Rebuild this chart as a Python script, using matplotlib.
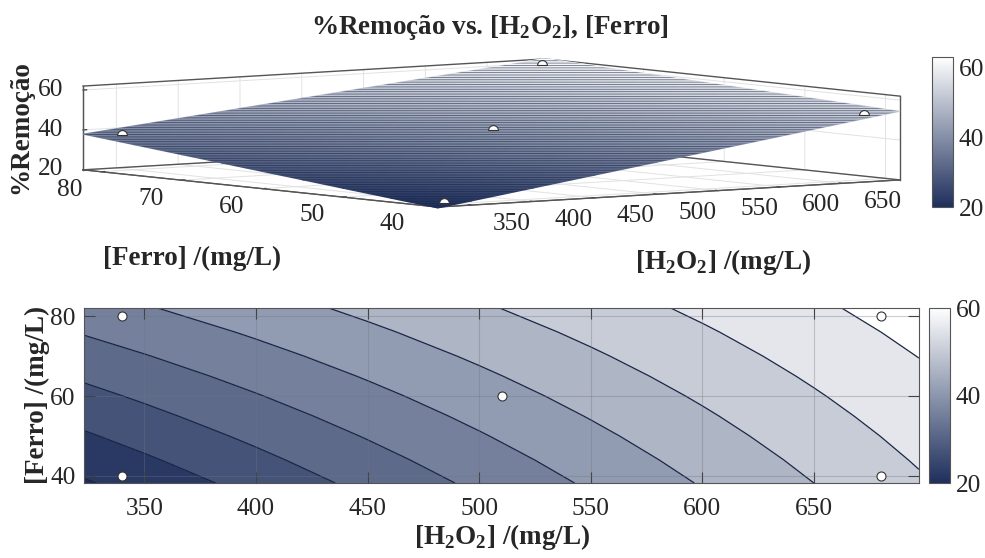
import matplotlib
matplotlib.use("Agg")
import matplotlib.pyplot as plt
import numpy as np
from matplotlib.cm import ScalarMappable
from matplotlib.colors import LinearSegmentedColormap, Normalize
from matplotlib.patches import Polygon
from matplotlib.path import Path
from mpl_toolkits.mplot3d import proj3d

h2o2_grid = [323, 350, 400, 450, 500, 550, 600, 650, 697]
ferro_grid = [38.2, 44, 50, 55, 60, 65, 70, 76, 82.2]
removal_382 = [19.5, 22.02, 26.68, 31.35, 36.01, 40.68, 45.34, 50.01, 54.39]
removal_44 = [21.93, 24.34, 28.82, 33.3, 37.78, 42.26, 46.74, 51.22, 55.43]
removal_50 = [24.43, 26.75, 31.03, 35.32, 39.61, 43.9, 48.19, 52.48, 56.5]
removal_55 = [26.53, 28.75, 32.88, 37.01, 41.14, 45.27, 49.39, 53.53, 57.4]
removal_60 = [28.61, 30.75, 34.72, 38.69, 42.66, 46.63, 50.6, 54.57, 58.3]
removal_65 = [30.71, 32.76, 36.57, 40.38, 44.19, 48.0, 51.81, 55.62, 59.2]
removal_70 = [32.8, 34.77, 38.42, 42.07, 45.72, 49.37, 53.02, 56.67, 60.09]
removal_76 = [35.31, 37.17, 40.63, 44.09, 47.55, 51.01, 54.46, 57.92, 61.17]
removal_822 = [37.9, 39.66, 42.92, 46.18, 49.44, 52.7, 55.96, 59.22, 62.28]

point_h2o2 = [340, 340, 510, 680, 680]
point_ferro = [40, 80, 60, 40, 80]
point_removal = [20.4, 38.0, 42.6, 52.5, 60.3]

contour_levels = [20, 25, 30, 35, 40, 45, 50, 55, 60]
h2o2_ticks = [350, 400, 450, 500, 550, 600, 650]
ferro_ticks_3d = [40, 50, 60, 70, 80]
ferro_ticks_2d = [40, 60, 80]
removal_ticks = [20, 40, 60]

plt.rcParams["font.family"] = ["Liberation Serif", "DejaVu Serif"]
plt.rcParams["mathtext.fontset"] = "custom"
plt.rcParams["mathtext.rm"] = "Liberation Serif"
plt.rcParams["mathtext.bf"] = "Liberation Serif:bold"
plt.rcParams["hatch.linewidth"] = 0.6

W, H = 985, 558
TEXT = "#262626"
EDGE = "#555555"
TICK_SIZE = 18.3
LABEL_SIZE = 19.5
cmap = LinearSegmentedColormap.from_list("navy_white", ["#1f2f5c", "#8c96ad", "#ffffff"])
removal = np.array([
    removal_382, removal_44, removal_50, removal_55, removal_60,
    removal_65, removal_70, removal_76, removal_822,
])
h_mesh, f_mesh = np.meshgrid(h2o2_grid, ferro_grid)


def px_axes(fig, left, top, right, bottom, **kwargs):
    return fig.add_axes(
        [left / W, (H - bottom) / H, (right - left) / W, (bottom - top) / H], **kwargs
    )


fig = plt.figure(figsize=(W / 100, H / 100), dpi=100)

# 3D panel: big square axes, the box itself only fills the middle
side = 1000
ax3d = fig.add_axes([-22 / W, -88.5 / H, side / W, side / H], projection="3d")
ax3d.set_facecolor("none")
ax3d.set_proj_type("ortho")
ax3d.view_init(elev=4.5, azim=-126.8)
ax3d.set_box_aspect((577, 592, 84), zoom=0.807)
xlim3, ylim3, zlim3 = (323, 697), (38.2, 82.2), (20, 62)
ax3d.set_xlim(*xlim3)
ax3d.set_ylim(*ylim3)
ax3d.set_zlim(*zlim3)
ax3d.set_xticks(h2o2_ticks)
ax3d.set_yticks(ferro_ticks_3d)
ax3d.set_zticks(removal_ticks)
ax3d.tick_params(labelsize=TICK_SIZE, colors=TEXT)
ax3d.tick_params(axis="x", pad=15)
ax3d.tick_params(axis="y", pad=17)
ax3d.tick_params(axis="z", pad=7)
plt.setp(ax3d.get_xticklabels(), ha="left", va="top")
plt.setp(ax3d.get_yticklabels(), ha="center", va="top")
plt.setp(ax3d.get_zticklabels(), va="center")
for axis in (ax3d.xaxis, ax3d.yaxis, ax3d.zaxis):
    axis.set_pane_color((1, 1, 1, 0))
    axis.pane.set_edgecolor("none")
    axis.line.set_color(EDGE)
    axis._axinfo["grid"].update(color="#e2e2e2", linewidth=0.7)
    axis._axinfo["tick"].update(inward_factor=0.0, outward_factor=0.1)

x0, x1 = xlim3
y0, y1 = ylim3
z0, z1 = zlim3
box_edges = [
    ((x0, x0), (y1, y1), (z0, z1)),
    ((x1, x1), (y0, y0), (z0, z1)),
    ((x0, x1), (y1, y1), (z1, z1)),
    ((x1, x1), (y0, y1), (z1, z1)),
    ((x0, x1), (y1, y1), (z0, z0)),
    ((x1, x1), (y0, y1), (z0, z0)),
    ((x0, x0), (y0, y1), (z0, z0)),
    ((x0, x1), (y0, y0), (z0, z0)),
]
for ex, ey, ez in box_edges:
    ax3d.plot(ex, ey, ez, color=EDGE, lw=1.0)

fig.canvas.draw()
proj = ax3d.get_proj()


def to_pixels(xs, ys, zs):
    px, py, _ = proj3d.proj_transform(np.ravel(xs), np.ravel(ys), np.ravel(zs), proj)
    return ax3d.transData.transform(np.column_stack([px, py]))


# surface goes on a full figure overlay so the table nodes get gouraud shading
overlay = fig.add_axes([0, 0, 1, 1], facecolor="none")
overlay.set_xlim(0, W)
overlay.set_ylim(0, H)
overlay.axis("off")

norm3d = Normalize(20, 62.9)
nodes = to_pixels(h_mesh, f_mesh, removal).reshape(removal.shape + (2,))
overlay.pcolormesh(
    nodes[..., 0], nodes[..., 1], removal, shading="gouraud", cmap=cmap, norm=norm3d, zorder=2
)
outline = np.vstack([nodes[0, :], nodes[:, -1], nodes[-1, ::-1], nodes[::-1, 0]])
overlay.add_patch(
    Polygon(outline, closed=True, facecolor="none", edgecolor=(0.08, 0.12, 0.25, 0.6),
            hatch="-" * 7, linewidth=0, zorder=3)
)
# markers sit half inside the surface, only the top half shows
pts = to_pixels(point_h2o2, point_ferro, point_removal)
overlay.scatter(pts[:, 0], pts[:, 1], s=50, marker=Path.wedge(0, 180), c="white",
                edgecolors="#333333", linewidths=0.8, zorder=4)

# contour panel
ax2d = px_axes(fig, 84, 307.5, 919, 483)
norm2d = Normalize(20, 60.3)
fill_levels = [10] + contour_levels + [70]
band_shades = [20, 22, 27, 31.5, 36, 41, 46, 50.5, 55.5, 60.3]
fill_colors = [cmap(norm2d(v)) for v in band_shades]
ax2d.contourf(h2o2_grid, ferro_grid, removal, levels=fill_levels, colors=fill_colors)
ax2d.contour(h2o2_grid, ferro_grid, removal, levels=contour_levels,
             colors="#1a2545", linewidths=0.9)
ax2d.set_xlim(323, 697)
ax2d.set_ylim(38.2, 82.2)
ax2d.set_xticks(h2o2_ticks)
ax2d.set_yticks(ferro_ticks_2d)
ax2d.grid(True, color="#6f7480", alpha=0.35, linewidth=0.8)
ax2d.set_axisbelow(False)
ax2d.tick_params(direction="in", length=8, width=0.8, color="#444444", labelcolor=TEXT,
                 labelsize=TICK_SIZE, pad=11, top=True, right=True)
ax2d.tick_params(axis="y", pad=6)
for spine in ax2d.spines.values():
    spine.set_color(EDGE)
ax2d.scatter(point_h2o2, point_ferro, s=42, c="white", edgecolors="#333333",
             linewidths=0.8, zorder=5, clip_on=False)

# colorbars
cax3d = px_axes(fig, 932, 57, 953, 207)
cbar3d = fig.colorbar(ScalarMappable(norm=norm3d, cmap=cmap), cax=cax3d, ticks=removal_ticks)
cax2d = px_axes(fig, 929, 307.5, 950, 483)
cbar2d = fig.colorbar(ScalarMappable(norm=norm2d, cmap=cmap), cax=cax2d, ticks=removal_ticks)
for cbar in (cbar3d, cbar2d):
    cbar.outline.set_edgecolor(EDGE)
    cbar.ax.tick_params(length=0, labelsize=TICK_SIZE, labelcolor=TEXT, pad=4)

h2o2_label = r"[H$_{\mathbf{2}}$O$_{\mathbf{2}}$] /(mg/L)"
label_kw = dict(fontsize=LABEL_SIZE, fontweight="bold", color=TEXT, ha="center", va="center")
fig.text(490 / W, 1 - 28 / H, r"%Remoção vs. [H$_{\mathbf{2}}$O$_{\mathbf{2}}$], [Ferro]", **label_kw)
fig.text(21 / W, 1 - 127 / H, "%Remoção", rotation=90, **label_kw)
fig.text(192 / W, 1 - 258 / H, "[Ferro] /(mg/L)", **label_kw)
fig.text(723 / W, 1 - 262 / H, h2o2_label, **label_kw)
fig.text(37 / W, 1 - 395 / H, "[Ferro] /(mg/L)", rotation=90, **label_kw)
fig.text(502 / W, 1 - 537 / H, h2o2_label, **label_kw)

fig.savefig("out.png", dpi=100)
